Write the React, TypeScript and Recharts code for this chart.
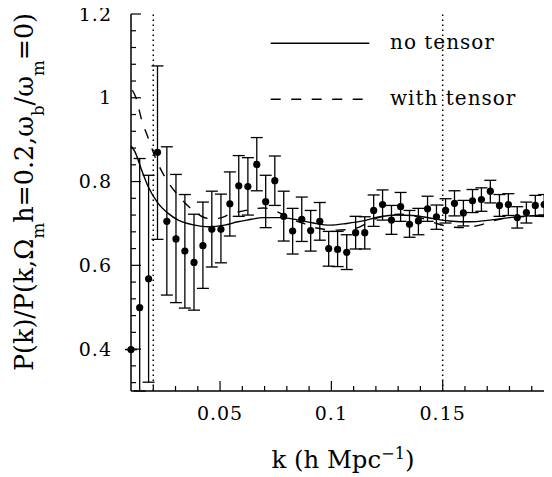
import { ComposedChart, XAxis, YAxis, Scatter, Line, ErrorBar, ReferenceLine, Legend } from "recharts"

// binned measurements: k, ratio, and the ends of each error bar
const pointK = [
    0.0100, 0.0139, 0.0179, 0.0219, 0.0261, 0.0302, 0.0342, 0.0383, 0.0423, 0.0463,
    0.0504, 0.0544, 0.0584, 0.0625, 0.0665, 0.0705, 0.0746, 0.0786, 0.0826, 0.0867,
    0.0907, 0.0948, 0.0988, 0.1028, 0.1069, 0.1109, 0.1150, 0.1190, 0.1230, 0.1270,
    0.1311, 0.1351, 0.1391, 0.1432, 0.1472, 0.1513, 0.1553, 0.1593, 0.1634, 0.1674,
    0.1714, 0.1755, 0.1795, 0.1835, 0.1876, 0.1916, 0.1956,
]
const pointVal = [
    0.399, 0.499, 0.568, 0.870, 0.705, 0.663, 0.634, 0.607, 0.647, 0.686,
    0.686, 0.747, 0.790, 0.788, 0.841, 0.752, 0.802, 0.717, 0.682, 0.710,
    0.683, 0.705, 0.640, 0.638, 0.631, 0.678, 0.678, 0.731, 0.745, 0.708,
    0.740, 0.698, 0.706, 0.735, 0.716, 0.731, 0.748, 0.725, 0.754, 0.757,
    0.777, 0.743, 0.745, 0.714, 0.726, 0.743, 0.745,
]
const errLow = [
    0.399, 0.300, 0.321, 0.662, 0.529, 0.511, 0.498, 0.493, 0.545, 0.596,
    0.606, 0.670, 0.717, 0.720, 0.778, 0.690, 0.743, 0.658, 0.627, 0.657,
    0.634, 0.660, 0.598, 0.597, 0.590, 0.639, 0.639, 0.693, 0.708, 0.674,
    0.705, 0.667, 0.673, 0.705, 0.686, 0.701, 0.718, 0.694, 0.726, 0.729,
    0.749, 0.717, 0.719, 0.689, 0.701, 0.718, 0.720,
]
const errHigh = [
    0.399, 0.855, 0.815, 1.076, 0.883, 0.817, 0.769, 0.722, 0.751, 0.777,
    0.770, 0.823, 0.862, 0.857, 0.905, 0.815, 0.861, 0.777, 0.736, 0.763,
    0.731, 0.750, 0.681, 0.681, 0.673, 0.717, 0.716, 0.768, 0.780, 0.743,
    0.774, 0.731, 0.736, 0.765, 0.744, 0.759, 0.778, 0.755, 0.781, 0.785,
    0.803, 0.769, 0.771, 0.740, 0.751, 0.767, 0.769,
]

// model curves
const noTensorK = [
    0.0100, 0.0118, 0.0148, 0.0178, 0.0222, 0.0267, 0.0312, 0.0387, 0.0447, 0.0520,
    0.0580, 0.0620, 0.0695, 0.0770, 0.0844, 0.0919, 0.0994, 0.1069, 0.1143, 0.1218,
    0.1293, 0.1367, 0.1442, 0.1530, 0.1622, 0.1711, 0.1801, 0.1891, 0.2000,
]
const noTensorVal = [
    0.885, 0.871, 0.827, 0.787, 0.748, 0.724, 0.708, 0.696, 0.692, 0.696,
    0.704, 0.708, 0.714, 0.714, 0.709, 0.701, 0.696, 0.700, 0.706, 0.716,
    0.720, 0.719, 0.713, 0.706, 0.704, 0.708, 0.714, 0.718, 0.720,
]
const tensorK = [
    0.0106, 0.0121, 0.0148, 0.0178, 0.0208, 0.0252, 0.0312, 0.0387, 0.0447, 0.0491,
    0.0545, 0.0635, 0.0695, 0.0755, 0.0814, 0.0874, 0.0934, 0.1024, 0.1113, 0.1158,
    0.1218, 0.1308, 0.1370, 0.1427, 0.1472, 0.1530, 0.1591, 0.1666, 0.1741, 0.1831,
    0.1935, 0.2000,
]
const tensorVal = [
    1.018, 1.002, 0.947, 0.903, 0.859, 0.811, 0.767, 0.728, 0.712, 0.712,
    0.722, 0.733, 0.737, 0.728, 0.712, 0.700, 0.689, 0.684, 0.689, 0.700,
    0.715, 0.722, 0.718, 0.709, 0.700, 0.692, 0.690, 0.696, 0.708, 0.716,
    0.717, 0.714,
]

const xMajorTicks = [0.05, 0.1, 0.15]
const xAllTicks = [
    0.02, 0.03, 0.04, 0.05, 0.06, 0.07, 0.08, 0.09, 0.1,
    0.11, 0.12, 0.13, 0.14, 0.15, 0.16, 0.17, 0.18, 0.19,
]
const yMajorTicks = [0.4, 0.6, 0.8, 1, 1.2]
const yAllTicks = [
    0.32, 0.36, 0.4, 0.44, 0.48, 0.52, 0.56, 0.6, 0.64, 0.68, 0.72, 0.76,
    0.8, 0.84, 0.88, 0.92, 0.96, 1, 1.04, 1.08, 1.12, 1.16, 1.2,
]
const markerK = [0.02, 0.15]

const points = pointK.map((k, i) => ({
    k,
    v: pointVal[i],
    err: [pointVal[i] - errLow[i], errHigh[i] - pointVal[i]],
}))
const noTensor = noTensorK.map((k, i) => ({ k, v: noTensorVal[i] }))
const withTensor = tensorK.map((k, i) => ({ k, v: tensorVal[i] }))

const FONT = "DejaVu Serif"
const INK = "#000"

const isMajor = (v: number, majors: number[]) => majors.some((m) => Math.abs(m - v) < 1e-6)

function BottomTick({ x, y, payload }: any) {
    const major = isMajor(payload.value, xMajorTicks)
    return (
        <g>
            <line x1={x} x2={x} y1={y} y2={y - (major ? 10 : 5)} stroke={INK} strokeWidth={1.2} />
            {major && (
                <text x={x} y={y + 29} textAnchor="middle" fontFamily={FONT} fontSize={19} letterSpacing={1} fill={INK}>
                    {String(payload.value)}
                </text>
            )}
        </g>
    )
}

function TopTick({ x, y, payload }: any) {
    const major = isMajor(payload.value, xMajorTicks)
    return <line x1={x} x2={x} y1={y} y2={y + (major ? 10 : 5)} stroke={INK} strokeWidth={1.2} />
}

function LeftTick({ x, y, payload }: any) {
    const major = isMajor(payload.value, yMajorTicks)
    return (
        <g>
            <line x1={x} x2={x + (major ? 10 : 5)} y1={y} y2={y} stroke={INK} strokeWidth={1.2} />
            {major && (
                <text x={x - 19} y={y + 6.5} textAnchor="end" fontFamily={FONT} fontSize={19} letterSpacing={1} fill={INK}>
                    {String(payload.value)}
                </text>
            )}
        </g>
    )
}

function RightTick({ x, y, payload }: any) {
    const major = isMajor(payload.value, yMajorTicks)
    return <line x1={x} x2={x - (major ? 10 : 5)} y1={y} y2={y} stroke={INK} strokeWidth={1.2} />
}

function Dot({ cx, cy }: any) {
    return <circle cx={cx} cy={cy} r={3.6} fill={INK} />
}

function KeyBox() {
    const rows = [
        { label: "no tensor", dash: undefined },
        { label: "with tensor", dash: "10 10.5" },
    ]
    return (
        <svg width={280} height={90} style={{ display: "block" }}>
            {rows.map((r, i) => (
                <g key={r.label}>
                    <line x1={0.7} x2={99.3} y1={7.3 + i * 56} y2={7.3 + i * 56} stroke={INK} strokeWidth={1.4} strokeDasharray={r.dash} />
                    <text x={120} y={13 + i * 56} fontFamily={FONT} fontSize={20} letterSpacing={1} fill={INK}>
                        {r.label}
                    </text>
                </g>
            ))}
        </svg>
    )
}

export default function App() {
    return (
        <div style={{ margin: "-8px 0 0 -8px", width: 552, height: 477, overflow: "hidden" }}>
            <ComposedChart width={554} height={477} margin={{ top: 14, right: 0, bottom: 0, left: 0 }}>
                <XAxis
                    xAxisId="bottom"
                    dataKey="k"
                    type="number"
                    domain={[0.01, 0.2]}
                    ticks={xAllTicks}
                    interval={0}
                    height={86}
                    tickSize={0}
                    tickMargin={0}
                    tick={<BottomTick />}
                    axisLine={{ stroke: INK, strokeWidth: 1.5 }}
                />
                <XAxis
                    xAxisId="top"
                    orientation="top"
                    dataKey="k"
                    type="number"
                    domain={[0.01, 0.2]}
                    ticks={xAllTicks}
                    interval={0}
                    height={0}
                    tickSize={0}
                    tickMargin={0}
                    tick={<TopTick />}
                    axisLine={{ stroke: INK, strokeWidth: 1.5 }}
                />
                <YAxis
                    yAxisId="left"
                    type="number"
                    domain={[0.3, 1.2]}
                    ticks={yAllTicks}
                    interval={0}
                    width={131}
                    tickSize={0}
                    tickMargin={0}
                    tick={<LeftTick />}
                    axisLine={{ stroke: INK, strokeWidth: 1.5 }}
                />
                <YAxis
                    yAxisId="right"
                    orientation="right"
                    type="number"
                    domain={[0.3, 1.2]}
                    ticks={yAllTicks}
                    interval={0}
                    width={0}
                    tickSize={0}
                    tickMargin={0}
                    tick={<RightTick />}
                    axisLine={{ stroke: INK, strokeWidth: 1.5 }}
                />

                {markerK.map((k) => (
                    <ReferenceLine key={k} x={k} xAxisId="bottom" yAxisId="left" stroke={INK} strokeWidth={1.5} strokeDasharray="1.5 3.5" />
                ))}

                <Line
                    data={noTensor}
                    dataKey="v"
                    xAxisId="bottom"
                    yAxisId="left"
                    type="monotone"
                    stroke={INK}
                    strokeWidth={1.4}
                    dot={false}
                    isAnimationActive={false}
                />
                <Line
                    data={withTensor}
                    dataKey="v"
                    xAxisId="top"
                    yAxisId="right"
                    type="monotone"
                    stroke={INK}
                    strokeWidth={1.4}
                    strokeDasharray="10 10.5"
                    dot={false}
                    isAnimationActive={false}
                />
                <Scatter data={points} dataKey="v" xAxisId="bottom" yAxisId="left" shape={<Dot />} isAnimationActive={false}>
                    <ErrorBar dataKey="err" direction="y" width={6} stroke={INK} strokeWidth={1.3} />
                </Scatter>

                <Legend
                    layout="horizontal"
                    verticalAlign="middle"
                    align="center"
                    content={() => <KeyBox />}
                    wrapperStyle={{ position: "absolute", left: 270, top: 36, width: 280, height: 90 }}
                />

                <text transform="translate(33,192) rotate(-90)" textAnchor="middle" fontFamily={FONT} fontSize={26} fill={INK} textLength={358} lengthAdjust="spacingAndGlyphs">
                    P(k)/P(k,Ω<tspan dy={11} fontSize={17}>m</tspan>
                    <tspan dy={-11}>h=0.2,ω</tspan>
                    <tspan dy={11} fontSize={17}>b</tspan>
                    <tspan dy={-11}>/ω</tspan>
                    <tspan dy={11} fontSize={17}>m</tspan>
                    <tspan dy={-11}>=0)</tspan>
                </text>
                <text x={343} y={468} textAnchor="middle" fontFamily={FONT} fontSize={24} fill={INK} textLength={143} lengthAdjust="spacingAndGlyphs">
                    k (h Mpc<tspan dy={-9} fontSize={16}>−1</tspan>
                    <tspan dy={9}>)</tspan>
                </text>
            </ComposedChart>
        </div>
    )
}
